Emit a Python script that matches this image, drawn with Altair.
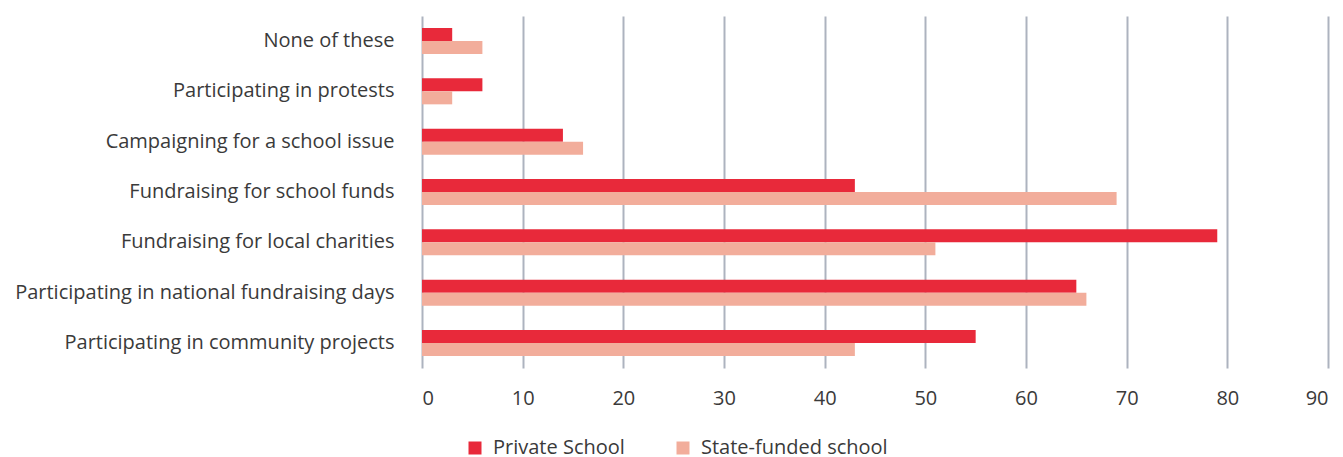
import altair as alt
import pandas as pd

categories = [
    "None of these",
    "Participating in protests",
    "Campaigning for a school issue",
    "Fundraising for school funds",
    "Fundraising for local charities",
    "Participating in national fundraising days",
    "Participating in community projects",
]
private_school = [3, 6, 14, 43, 79, 65, 55]
state_school = [6, 3, 16, 69, 51, 66, 43]
series = ["Private School", "State-funded school"]
colors = ["#e8293a", "#f2ad9b"]

rows = []
for c, p, s in zip(categories, private_school, state_school):
    rows.append({"Activity": c, "Series": series[0], "Value": p})
    rows.append({"Activity": c, "Series": series[1], "Value": s})
df = pd.DataFrame(rows)

FONT = "Open Sans"
TEXT = "#3a3a3a"

chart = (
    alt.Chart(df)
    .mark_bar()
    .encode(
        y=alt.Y(
            "Activity:N",
            sort=categories,
            title=None,
            scale=alt.Scale(paddingInner=0.483, paddingOuter=0.238),
            axis=alt.Axis(
                domain=False, ticks=False, labelPadding=28, labelFontSize=20,
                labelFont=FONT, labelColor=TEXT, labelFontWeight=400, grid=False,
                labelLimit=0,
            ),
        ),
        yOffset=alt.YOffset("Series:N", sort=series),
        x=alt.X(
            "Value:Q",
            title=None,
            scale=alt.Scale(domain=[0, 90], nice=False),
            axis=alt.Axis(
                values=list(range(0, 91, 10)), domain=False, ticks=False,
                labelPadding=20, labelFontSize=20, labelFont=FONT, labelColor=TEXT,
                labelFontWeight=400, grid=True, gridColor="#adb3bf", gridWidth=2,
            ),
        ),
        color=alt.Color(
            "Series:N",
            sort=series,
            scale=alt.Scale(domain=series, range=colors),
            legend=alt.Legend(
                title=None, orient="none", direction="horizontal",
                legendX=43, legendY=422, symbolType="square", symbolSize=169,
                symbolStrokeWidth=0, labelFontSize=20, labelFont=FONT,
                labelColor=TEXT, labelFontWeight=400, labelOffset=8,
                columnPadding=48, padding=0, labelLimit=0,
            ),
        ),
    )
    .properties(
        width=906,
        height=352,
        autosize=alt.AutoSizeParams(type="none"),
        padding={"left": 414, "top": 8, "right": 7, "bottom": 95},
    )
    .configure_view(stroke=None)
)

chart.save("out.html", embed_options={"renderer": "svg", "actions": False})
